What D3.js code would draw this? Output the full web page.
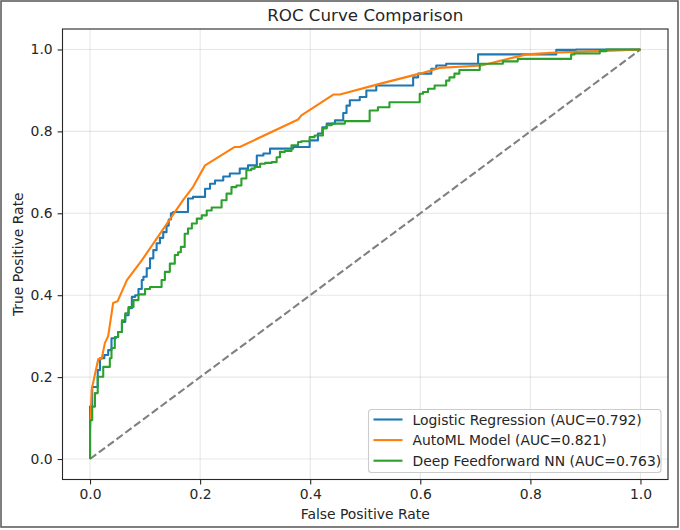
<!DOCTYPE html>
<html><head><meta charset="utf-8">
<script src="https://cdn.jsdelivr.net/npm/d3@7"></script>
<style>body{margin:0;background:#fff}svg{display:block;font-family:"DejaVu Sans",sans-serif}</style>
</head><body><svg id="c" width="680" height="530"></svg>
<script>
const seriesNames = ["Logistic Regression (AUC=0.792)", "AutoML Model (AUC=0.821)", "Deep Feedforward NN (AUC=0.763)"];
const seriesColors = ["#1f77b4", "#ff7f0e", "#2ca02c"];
const xTicks = [0.0, 0.2, 0.4, 0.6, 0.8, 1.0];
const yTicks = [0.0, 0.2, 0.4, 0.6, 0.8, 1.0];

const logregFpr = [0,0,0.004,0.009,0.014,0.018,0.026,0.033,0.039,0.047,0.051,0.058,0.064,0.070,0.076,0.082,0.088,0.094,0.097,0.103,0.109,0.115,0.121,0.127,0.133,0.139,0.143,0.147,0.151,0.163,0.178,0.187,0.209,0.218,0.227,0.242,0.254,0.272,0.287,0.303,0.315,0.327,0.336,0.369,0.381,0.399,0.414,0.422,0.430,0.445,0.460,0.466,0.472,0.490,0.502,0.520,0.538,0.587,0.596,0.620,0.629,0.647,0.668,0.705,0.714,0.847,0.883,1];
const logregTpr = [0,0.071,0.128,0.176,0.176,0.217,0.246,0.254,0.266,0.295,0.298,0.310,0.335,0.351,0.368,0.396,0.400,0.415,0.437,0.445,0.466,0.490,0.510,0.527,0.540,0.554,0.570,0.585,0.600,0.603,0.603,0.636,0.640,0.660,0.672,0.680,0.690,0.697,0.709,0.717,0.741,0.746,0.758,0.758,0.762,0.762,0.778,0.795,0.810,0.819,0.827,0.845,0.863,0.876,0.884,0.900,0.912,0.912,0.932,0.941,0.953,0.961,0.965,0.965,0.988,0.988,0.999,1];

const automlFpr = [0,0,0.003,0.004,0.015,0.021,0.027,0.033,0.042,0.050,0.067,0.094,0.169,0.187,0.209,0.263,0.272,0.378,0.384,0.442,0.454,0.526,0.599,0.635,0.711,0.793,0.853,0.926,1];
const automlTpr = [0,0.063,0.168,0.176,0.244,0.244,0.283,0.300,0.381,0.385,0.437,0.485,0.632,0.664,0.717,0.762,0.762,0.829,0.839,0.890,0.890,0.916,0.941,0.955,0.961,0.988,0.993,0.996,1];

const dnnFpr = [0,0,0.004,0.009,0.014,0.018,0.024,0.027,0.036,0.039,0.045,0.051,0.058,0.064,0.070,0.079,0.088,0.100,0.109,0.118,0.130,0.136,0.145,0.154,0.160,0.165,0.172,0.178,0.185,0.194,0.203,0.212,0.221,0.230,0.239,0.248,0.257,0.266,0.275,0.284,0.293,0.299,0.309,0.318,0.330,0.339,0.345,0.354,0.366,0.378,0.384,0.399,0.408,0.423,0.430,0.439,0.454,0.463,0.472,0.508,0.523,0.544,0.563,0.599,0.605,0.614,0.626,0.635,0.647,0.653,0.662,0.671,0.677,0.708,0.708,0.750,0.777,0.795,0.874,0.880,0.926,0.938,1];
const dnnTpr = [0,0.063,0.095,0.128,0.161,0.201,0.201,0.225,0.225,0.246,0.271,0.298,0.310,0.339,0.356,0.371,0.388,0.402,0.415,0.420,0.420,0.437,0.457,0.477,0.498,0.505,0.518,0.550,0.563,0.575,0.587,0.595,0.607,0.614,0.614,0.632,0.648,0.664,0.668,0.685,0.705,0.709,0.713,0.721,0.723,0.725,0.737,0.750,0.752,0.766,0.774,0.776,0.786,0.790,0.807,0.815,0.819,0.819,0.825,0.825,0.851,0.859,0.871,0.871,0.892,0.896,0.904,0.912,0.912,0.924,0.932,0.941,0.950,0.950,0.957,0.965,0.971,0.977,0.977,0.988,0.990,0.996,1];

const series = [
  {fpr: logregFpr, tpr: logregTpr, curve: d3.curveStepBefore},
  {fpr: automlFpr, tpr: automlTpr, curve: d3.curveLinear},
  {fpr: dnnFpr, tpr: dnnTpr, curve: d3.curveStepBefore}
];

const svg = d3.select("#c");
const L = 62.5, R = 668, T = 29, B = 479.5;
const x = d3.scaleLinear().domain([-0.05, 1.05]).range([L, R]);
const y = d3.scaleLinear().domain([-0.05, 1.05]).range([B, T]);

// figure border
svg.append("rect").attr("x", 1).attr("y", 1).attr("width", 677).attr("height", 526)
  .attr("fill", "#fff").attr("stroke", "#555").attr("stroke-width", 1.5);

// grid
const g = svg.append("g");
g.selectAll(".gx").data(xTicks).join("line")
  .attr("x1", d => x(d)).attr("x2", d => x(d)).attr("y1", T).attr("y2", B)
  .attr("stroke", "#b0b0b0").attr("stroke-opacity", 0.3).attr("stroke-width", 1.1);
g.selectAll(".gy").data(yTicks).join("line")
  .attr("y1", d => y(d)).attr("y2", d => y(d)).attr("x1", L).attr("x2", R)
  .attr("stroke", "#b0b0b0").attr("stroke-opacity", 0.3).attr("stroke-width", 1.1);

// diagonal
svg.append("line").attr("x1", x(0)).attr("y1", y(0)).attr("x2", x(1)).attr("y2", y(1))
  .attr("stroke", "#808080").attr("stroke-width", 2.1).attr("stroke-dasharray", "7.7,3.3");

const clip = svg.append("clipPath").attr("id", "clp").append("rect")
  .attr("x", L).attr("y", T).attr("width", R - L).attr("height", B - T);

series.forEach((s, i) => {
  const pts = s.fpr.map((f, j) => [f, s.tpr[j]]);
  const line = d3.line().x(d => x(d[0])).y(d => y(d[1])).curve(s.curve);
  svg.append("path").attr("d", line(pts)).attr("fill", "none")
    .attr("stroke", seriesColors[i]).attr("stroke-width", 2.1)
    .attr("stroke-linejoin", "round").attr("clip-path", "url(#clp)");
});

// axes
const fmt = d3.format(".1f");
const xa = svg.append("g").attr("transform", `translate(0,${B})`)
  .call(d3.axisBottom(x).tickValues(xTicks).tickFormat(fmt).tickSize(4.9).tickPadding(4.9));
const ya = svg.append("g").attr("transform", `translate(${L},0)`)
  .call(d3.axisLeft(y).tickValues(yTicks).tickFormat(fmt).tickSize(4.9).tickPadding(4.9));
[xa, ya].forEach(a => {
  a.select(".domain").remove();
  a.selectAll("text").attr("font-size", 13.9).attr("fill", "#262626").attr("font-family", "DejaVu Sans");
  a.selectAll("line").attr("stroke", "#262626").attr("stroke-width", 1.1);
});
svg.append("rect").attr("x", L).attr("y", T).attr("width", R - L).attr("height", B - T)
  .attr("fill", "none").attr("stroke", "#262626").attr("stroke-width", 1.1);

// labels
svg.append("text").attr("x", (L + R) / 2).attr("y", 21).attr("text-anchor", "middle")
  .attr("font-size", 16.7).attr("fill", "#262626").text("ROC Curve Comparison");
svg.append("text").attr("x", (L + R) / 2).attr("y", 519).attr("text-anchor", "middle")
  .attr("font-size", 13.9).attr("fill", "#262626").text("False Positive Rate");
svg.append("text").attr("transform", `translate(23,${(T + B) / 2}) rotate(-90)`).attr("text-anchor", "middle")
  .attr("font-size", 13.9).attr("fill", "#262626").text("True Positive Rate");

// legend
const lg = svg.append("g");
lg.append("rect").attr("x", 368.5).attr("y", 409.5).attr("width", 292.5).attr("height", 63)
  .attr("rx", 3).attr("fill", "#fff").attr("fill-opacity", 0.8).attr("stroke", "#cccccc").attr("stroke-width", 1.1);
seriesNames.forEach((n, i) => {
  const yy = 419.5 + i * 20.6;
  lg.append("line").attr("x1", 373.5).attr("x2", 402.5).attr("y1", yy).attr("y2", yy)
    .attr("stroke", seriesColors[i]).attr("stroke-width", 2.1);
  lg.append("text").attr("x", 412.5).attr("y", yy).attr("dy", "0.36em")
    .attr("font-size", 13.9).attr("fill", "#262626").text(n);
});
</script></body></html>
